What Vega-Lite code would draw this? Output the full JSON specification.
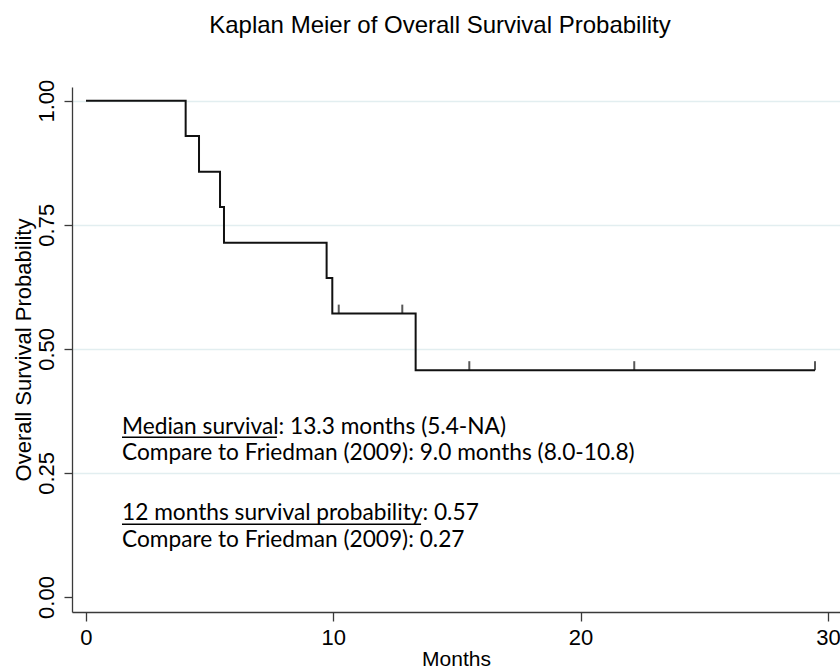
{
  "$schema": "https://vega.github.io/schema/vega-lite/v6.json",
  "width": 768,
  "height": 525,
  "autosize": {"type": "none"},
  "padding": {"left": 72, "top": 87, "right": 0, "bottom": 60},
  "background": "white",
  "title": {
    "text": "Kaplan Meier of Overall Survival Probability",
    "font": "Liberation Sans",
    "fontSize": 24,
    "fontWeight": "normal",
    "color": "#000000",
    "anchor": "middle",
    "frame": "group",
    "dx": -16,
    "baseline": "alphabetic",
    "offset": 22
  },
  "config": {
    "view": {"stroke": null},
    "axis": {
      "labelFont": "Liberation Sans",
      "titleFont": "Liberation Sans",
      "titleFontWeight": "normal",
      "labelColor": "#000000",
      "titleColor": "#000000",
      "domainColor": "#3a3a3a",
      "tickColor": "#3a3a3a",
      "domainWidth": 1.3,
      "tickWidth": 1.3,
      "tickSize": 9
    }
  },
  "datasets": {
    "km": [
      {"time": 0, "surv": 1.0},
      {"time": 4.03, "surv": 0.929},
      {"time": 4.57, "surv": 0.857},
      {"time": 5.42, "surv": 0.786},
      {"time": 5.58, "surv": 0.714},
      {"time": 9.73, "surv": 0.643},
      {"time": 9.96, "surv": 0.571},
      {"time": 13.33, "surv": 0.457},
      {"time": 29.48, "surv": 0.457}
    ],
    "censor": [
      {"time": 10.22, "surv": 0.571},
      {"time": 12.79, "surv": 0.571},
      {"time": 15.5, "surv": 0.457},
      {"time": 22.17, "surv": 0.457},
      {"time": 29.48, "surv": 0.457}
    ],
    "notes": [
      {"label": "Median survival: 13.3 months (5.4-NA)", "x": 1.456, "y": 0.3278},
      {"label": "Compare to Friedman (2009): 9.0 months (8.0-10.8)", "x": 1.456, "y": 0.276},
      {"label": "12 months survival probability: 0.57", "x": 1.456, "y": 0.155},
      {"label": "Compare to Friedman (2009): 0.27", "x": 1.456, "y": 0.1013}
    ],
    "underlines": [
      {"x": 1.456, "x2": 7.72, "y": 0.3218},
      {"x": 1.456, "x2": 13.55, "y": 0.1465}
    ]
  },
  "layer": [
    {
      "data": {"name": "km"},
      "mark": {"type": "line", "interpolate": "step-after", "color": "#111111", "strokeWidth": 2},
      "encoding": {
        "x": {
          "field": "time",
          "type": "quantitative",
          "scale": {"domain": [-0.566, 30.49], "nice": false, "zero": false},
          "axis": {
            "title": "Months",
            "values": [0, 10, 20, 30],
            "grid": false,
            "labelFontSize": 22,
            "titleFontSize": 21,
            "labelPadding": 6,
            "titlePadding": 0,
            "labelFlush": false
          }
        },
        "y": {
          "field": "surv",
          "type": "quantitative",
          "scale": {"domain": [-0.0302, 1.0276], "nice": false, "zero": false},
          "axis": {
            "title": "Overall Survival Probability",
            "values": [0, 0.25, 0.5, 0.75, 1],
            "format": ".2f",
            "labelFontSize": 22,
            "titleFontSize": 22,
            "labelAngle": 270,
            "labelAlign": "center",
            "labelBaseline": "bottom",
            "labelPadding": 6,
            "titlePadding": 0,
            "tickSize": 8,
            "grid": true,
            "gridColor": {"condition": {"test": "datum.value === 0", "value": "transparent"}, "value": "#e2eef0"},
            "gridWidth": 1.5
          }
        }
      }
    },
    {
      "data": {"name": "censor"},
      "mark": {"type": "tick", "orient": "vertical", "size": 9, "thickness": 2, "yOffset": -4.5, "color": "#111111"},
      "encoding": {
        "x": {"field": "time", "type": "quantitative"},
        "y": {"field": "surv", "type": "quantitative"}
      }
    },
    {
      "data": {"name": "notes"},
      "mark": {"type": "text", "align": "left", "baseline": "alphabetic", "font": "Lato", "fontSize": 22.7, "color": "#000000"},
      "encoding": {
        "x": {"field": "x", "type": "quantitative"},
        "y": {"field": "y", "type": "quantitative"},
        "text": {"field": "label"}
      }
    },
    {
      "data": {"name": "underlines"},
      "mark": {"type": "rule", "color": "#000000", "strokeWidth": 1.5},
      "encoding": {
        "x": {"field": "x", "type": "quantitative"},
        "x2": {"field": "x2"},
        "y": {"field": "y", "type": "quantitative"}
      }
    }
  ]
}
